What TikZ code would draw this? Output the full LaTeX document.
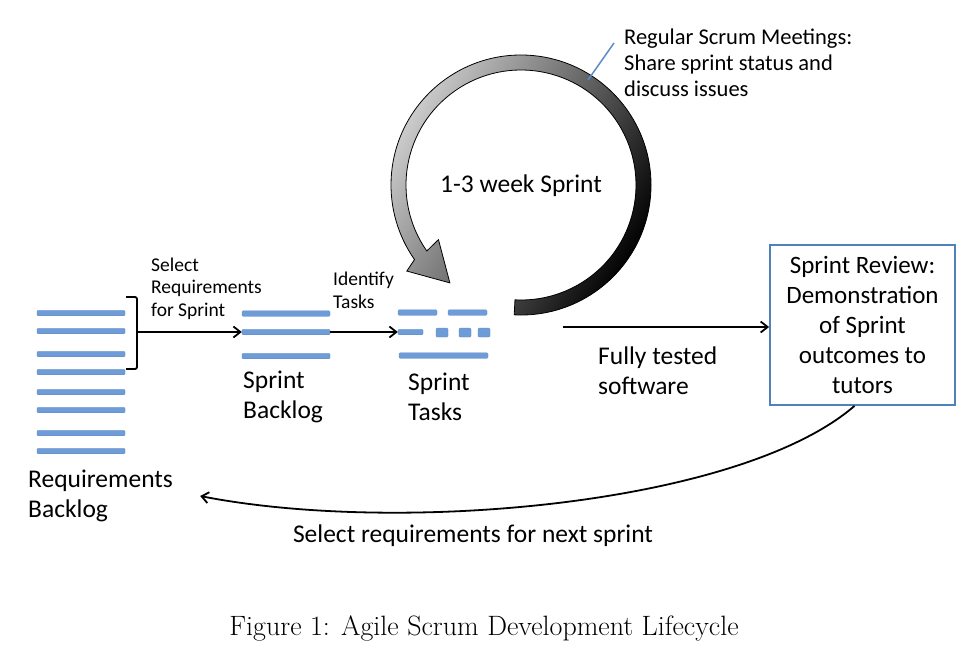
\documentclass[tikz,border=0pt]{standalone}
\usepackage{fontspec}
\setsansfont{Carlito}
\usetikzlibrary{arrows.meta,calc}
\definecolor{barblue}{RGB}{110,156,216}
\definecolor{boxblue}{RGB}{79,129,189}
\definecolor{callblue}{RGB}{91,139,201}
\begin{document}
\begin{tikzpicture}[x=1pt,y=1pt,
  bar/.style={rectangle,fill=barblue,draw=barblue!85!black,line width=0.3pt,inner sep=0pt,minimum height=5.5pt,rounded corners=1pt},
  sq/.style={bar,minimum height=9pt,minimum width=12pt},
  big/.style={font=\sffamily\fontsize{25.5}{30}\selectfont,inner sep=0pt,align=left},
  small/.style={font=\sffamily\fontsize{19.5}{22.5}\selectfont,inner sep=0pt,align=left},
  conn/.style={line width=1.8pt,-{Straight Barb[length=7pt,width=11pt,line width=1.8pt]}},
  brk/.style={line width=1.8pt,rounded corners=2pt}]
\useasboundingbox (0,0) rectangle (967,-651);
% Requirements backlog bars
\foreach \y [count=\i] in {313,331,354,372,392,410,433,451}
  \node[bar,minimum width=88pt] (rb\i) at (81,-\y) {};
% bracket
\coordinate (bt) at (126,-297);
\coordinate (bb) at (126,-369);
\coordinate (bm) at (137,-332);
\draw[brk] (bt) -- (137,-297) -- (137,-369) -- (bb);
% Sprint backlog bars
\node[bar,minimum width=88pt] (sb1) at (286,-313.5) {};
\node[bar,minimum width=88pt] (sb2) at (286,-332) {};
\node[bar,minimum width=88pt] (sb3) at (286,-356) {};
% Sprint tasks
\node[bar,minimum width=39pt] (st1) at (417.5,-312.5) {};
\node[bar,minimum width=39pt] (st2) at (467.5,-312.5) {};
\node[bar,minimum width=25pt] (st3) at (410.5,-332) {};
\node[sq] (st4) at (442,-332.5) {};
\node[sq] (st5) at (465,-332.5) {};
\node[sq] (st6) at (484,-332.5) {};
\node[bar,minimum width=89pt] (st7) at (443.5,-355.5) {};
% arrows
\draw[conn] (bm) -- (sb2.west);
\draw[conn] (sb2.east) -- (st3.west);
% labels
\node[small,anchor=west] (selreq) at (151,-288.5) {Select\\Requirements\\for Sprint};
\node[small,anchor=west] (idtask) at (333,-290.5) {Identify\\Tasks};
\node[big,anchor=west] (sblab) at (243,-397) {Sprint\\Backlog};
\node[big,anchor=west] (stlab) at (408,-397) {Sprint\\Tasks};
\node[big,anchor=west] (rblab) at (28,-496) {Requirements\\Backlog};
\node[big,anchor=west] (ftlab) at (598,-370.5) {Fully tested\\software};
% sprint cycle arrow
\coordinate (C) at (521,-185);
\path[draw=black,line width=0.8pt,left color=white!80!black,right color=black,shading angle=60]
  ($(C)+(-93:130)$) arc[start angle=-93,end angle=215,radius=130]
  -- ($(C)+(217:143)$) -- ($(C)+(234:121)$) -- ($(C)+(213.5:99)$)
  -- ($(C)+(215:115)$) arc[start angle=215,end angle=-93,radius=115] -- cycle;
\node[big,anchor=center] (wk) at (521,-186) {1-3 week Sprint};
% meetings callout
\node[font=\sffamily\fontsize{22.5}{26}\selectfont,inner sep=0pt,align=left,anchor=west] (meet) at (624,-63) {Regular Scrum Meetings:\\Share sprint status and\\discuss issues};
\coordinate (cl) at (614,-43);
\coordinate (ce) at (588,-80);
\draw[callblue,line width=1.5pt] (cl) -- (ce);
% review box
\node[draw=boxblue,line width=1.8pt,minimum width=185pt,minimum height=160pt,inner sep=0pt,
  font=\sffamily\fontsize{25}{30}\selectfont,align=center] (review) at (862.5,-325)
  {Sprint Review:\\Demonstration\\of Sprint\\outcomes to\\tutors};
\coordinate (fts) at (563,-327);
\draw[conn] (fts) -- (review.west |- fts);
% return curve
\draw[conn] ([xshift=-8pt]review.south) .. controls (740,-505) and (400,-535) .. ([xshift=27pt]rblab.east);
\node[big,anchor=center] (next) at (473,-536) {Select requirements for next sprint};
% caption
\node[font=\fontsize{28}{33}\selectfont,inner sep=0pt] (cap) at (484,-628) {Figure 1: Agile Scrum Development Lifecycle};
\end{tikzpicture}
\end{document}
